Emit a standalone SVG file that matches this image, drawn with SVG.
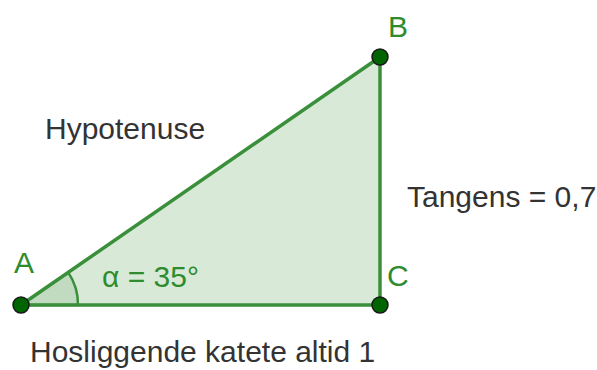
<svg xmlns="http://www.w3.org/2000/svg" width="597" height="370" viewBox="0 0 597 370">
<style>
.t{font-family:"Liberation Sans",Arial,sans-serif;font-size:30px;fill:#333}
.g{font-family:"Liberation Sans",Arial,sans-serif;font-size:30px;fill:#2e8b2e}
.pt{fill:#006400;stroke:#1a1a1a;stroke-width:1.5}
.edge{stroke:#3a8f3a;stroke-width:3.5;fill:none;stroke-linecap:round}
</style>
<rect width="597" height="370" fill="#fff"/>
<g id="triangle">
<polygon points="21,305 380,57 380,305" fill="#3a8f3a" fill-opacity="0.2"/>
</g>
<g id="angle">
<path d="M21,305 L68.2,272.4 A57,57 0 0 1 78,305 Z" fill="#3a8f3a" fill-opacity="0.15" stroke="#3a8f3a" stroke-width="2.5"/>
<text class="g" x="102" y="287">α = 35°</text>
</g>
<g id="connectors">
<line class="edge" x1="21" y1="305" x2="380" y2="57"/>
<line class="edge" x1="380" y1="57" x2="380" y2="305"/>
<line class="edge" x1="21" y1="305" x2="380" y2="305"/>
</g>
<g id="A"><circle class="pt" cx="21" cy="305" r="8"/><text class="g" x="14" y="273">A</text></g>
<g id="B"><circle class="pt" cx="380" cy="57" r="8"/><text class="g" x="388" y="37">B</text></g>
<g id="C"><circle class="pt" cx="380" cy="305" r="8"/><text class="g" x="387" y="286">C</text></g>
<g id="labels">
<text class="t" x="45" y="139">Hypotenuse</text>
<text class="t" x="407" y="207">Tangens = 0,7</text>
<text class="t" x="30" y="362">Hosliggende katete altid 1</text>
</g>
</svg>
